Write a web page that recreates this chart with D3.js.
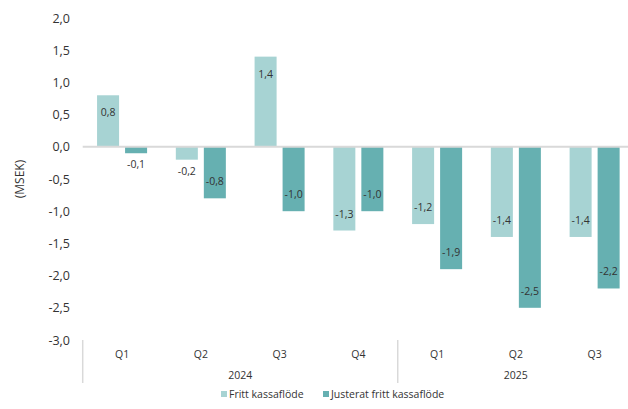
<!DOCTYPE html>
<html>
<head>
<meta charset="utf-8">
<script src="https://cdn.jsdelivr.net/npm/d3@7"></script>
<style>
  html, body { margin: 0; padding: 0; background: #ffffff; }
  svg { display: block; font-family: "Open Sans", Lato, sans-serif; }
</style>
</head>
<body>
<svg id="chart" width="628" height="409"></svg>
<script>
// Quarterly cash flow, MSEK
const years = ["2024", "2025"];
const quarters = [
  { year: "2024", q: "Q1" }, { year: "2024", q: "Q2" }, { year: "2024", q: "Q3" }, { year: "2024", q: "Q4" },
  { year: "2025", q: "Q1" }, { year: "2025", q: "Q2" }, { year: "2025", q: "Q3" }
];
const seriesNames = ["Fritt kassaflöde", "Justerat fritt kassaflöde"];
const frittKassaflode = [0.8, -0.2, 1.4, -1.3, -1.2, -1.4, -1.4];
const justeratFrittKassaflode = [-0.1, -0.8, -1.0, -1.0, -1.9, -2.5, -2.2];
const yTicks = [2.0, 1.5, 1.0, 0.5, 0.0, -0.5, -1.0, -1.5, -2.0, -2.5, -3.0];
const colors = ["#a7d3d3", "#66b0b1"];

const svg = d3.select("#chart");
const fmt = v => d3.format(".1f")(v).replace(".", ",").replace("−", "-");

const keys = quarters.map(d => d.year + " " + d.q);
const x0 = d3.scaleBand().domain(keys).range([82.7, 634]);
const x1 = d3.scaleBand().domain(seriesNames).range([0, x0.bandwidth()])
  .paddingInner(0.214).paddingOuter(0.513);
const y = d3.scaleLinear().domain([-3, 2]).range([340, 18]);

// y-axis tick labels
const yAxis = d3.axisLeft(y).tickValues(yTicks).tickSize(0).tickPadding(0).tickFormat(fmt);
svg.append("g")
  .attr("transform", "translate(70,0)")
  .call(yAxis)
  .call(g => g.select(".domain").remove())
  .call(g => g.selectAll("text")
    .attr("font-family", "'Open Sans', Lato, sans-serif")
    .attr("font-size", 12.5).attr("fill", "#333333"));

// y-axis title
svg.append("text")
  .attr("transform", `translate(21,${y(-0.5)}) rotate(-90)`)
  .attr("text-anchor", "middle")
  .attr("dominant-baseline", "middle")
  .attr("font-size", 12).attr("fill", "#333333")
  .text("(MSEK)");

const data = quarters.map((d, i) => ({
  key: keys[i],
  values: [frittKassaflode[i], justeratFrittKassaflode[i]]
}));

const groups = svg.append("g").selectAll("g").data(data).join("g")
  .attr("transform", d => `translate(${x0(d.key)},0)`);

groups.selectAll("rect")
  .data(d => d.values.map((v, j) => ({ v, s: seriesNames[j], j })))
  .join("rect")
  .attr("x", d => x1(d.s))
  .attr("width", x1.bandwidth())
  .attr("y", d => Math.min(y(d.v), y(0)))
  .attr("height", d => Math.abs(y(d.v) - y(0)))
  .attr("fill", d => colors[d.j]);

// value labels
groups.selectAll("text.val")
  .data(d => d.values.map((v, j) => ({ v, s: seriesNames[j], j })))
  .join("text")
  .attr("class", "val")
  .attr("x", d => x1(d.s) + x1.bandwidth() / 2)
  .attr("y", d => {
    const h = Math.abs(y(d.v) - y(0));
    const dir = d.v >= 0 ? 1 : -1;
    if (h > 25) return y(d.v) + dir * 17;
    return y(d.v) - dir * 11;
  })
  .attr("text-anchor", "middle")
  .attr("dominant-baseline", "central")
  .attr("font-size", 10.5).attr("fill", "#333333")
  .text(d => fmt(d.v));

// zero line
svg.append("line")
  .attr("x1", 82.7).attr("x2", 634)
  .attr("y1", y(0)).attr("y2", y(0))
  .attr("stroke", "#d9d9d9").attr("stroke-width", 2);

// category axis: quarters and years
svg.append("g").selectAll("text").data(quarters).join("text")
  .attr("x", (d, i) => x0(keys[i]) + x0.bandwidth() / 2)
  .attr("y", 354)
  .attr("text-anchor", "middle").attr("dominant-baseline", "central")
  .attr("font-size", 10.5).attr("fill", "#333333")
  .text(d => d.q);

const yearSpan = years.map(yr => {
  const ks = keys.filter(k => k.startsWith(yr));
  return { yr, x0: x0(ks[0]), x1: x0(ks[ks.length - 1]) + x0.bandwidth() };
});
svg.append("g").selectAll("text").data(yearSpan).join("text")
  .attr("x", d => (d.x0 + d.x1) / 2)
  .attr("y", 375)
  .attr("text-anchor", "middle").attr("dominant-baseline", "central")
  .attr("font-size", 10.5).attr("fill", "#333333")
  .text(d => d.yr);

svg.append("g").selectAll("line").data(yearSpan).join("line")
  .attr("x1", d => d.x0).attr("x2", d => d.x0)
  .attr("y1", 340).attr("y2", 383)
  .attr("stroke", "#d9d9d9").attr("stroke-width", 1.5);

// legend
const legend = svg.append("g").selectAll("g").data(seriesNames).join("g")
  .attr("transform", (d, i) => `translate(${i === 0 ? 221 : 323},394)`);
legend.append("rect")
  .attr("x", 0).attr("y", -3).attr("width", 6).attr("height", 6)
  .attr("fill", (d, i) => colors[i]);
legend.append("text")
  .attr("x", 8).attr("y", 0)
  .attr("dominant-baseline", "central")
  .attr("font-size", 10.5).attr("fill", "#333333")
  .text(d => d);
</script>
</body>
</html>
